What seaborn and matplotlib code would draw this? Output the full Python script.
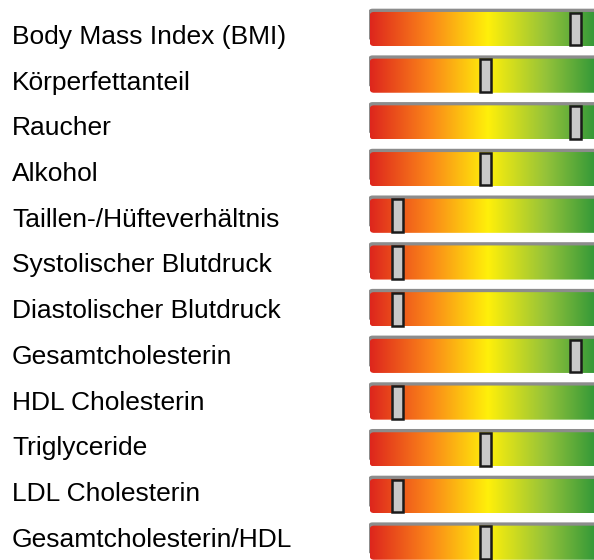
import numpy as np
import matplotlib
matplotlib.use("Agg")
import matplotlib.pyplot as plt
from matplotlib.patches import FancyBboxPatch
import seaborn as sns

# data
labels = [
    "Body Mass Index (BMI)",
    "Körperfettanteil",
    "Raucher",
    "Alkohol",
    "Taillen-/Hüfteverhältnis",
    "Systolischer Blutdruck",
    "Diastolischer Blutdruck",
    "Gesamtcholesterin",
    "HDL Cholesterin",
    "Triglyceride",
    "LDL Cholesterin",
    "Gesamtcholesterin/HDL",
]
scores = [87.5, 49.5, 87.5, 49.5, 12, 12, 12, 87.5, 12, 49.5, 12, 49.5]
grad_colors = ["#de261d", "#fa8519", "#fff00a", "#93c23a", "#1f9038"]

sns.set_theme(style="white")
plt.rcParams["font.family"] = ["Liberation Sans", "DejaVu Sans"]

W, H = 594, 560
fig = plt.figure(figsize=(W / 100, H / 100), dpi=100)

# bar axes: left edge at px 369, 236 px wide (runs past the right border)
n = len(labels)
pitch = 46.7
top = 29 - pitch / 2
ax = fig.add_axes([369 / W, 1 - (top + pitch * n) / H, 236 / W, pitch * n / H])
ax.set_xlim(0, 100)
ax.set_ylim(n - 0.5, -0.5)
ax.axis("off")

cmap = sns.blend_palette(grad_colors, as_cmap=True)
grad = np.linspace(0, 1, 256).reshape(1, -1)
half = 0.365
r_x = 1.8                      # corner radius in x units (~4 px)
aspect = (4 / pitch) / r_x     # same radius in y units
for i in range(n):
    # grey shadow edge on top and left
    shadow = FancyBboxPatch((-0.3, i - half - 0.07), 100.3, 2 * half - 0.05,
                            boxstyle=f"round,pad=0,rounding_size={r_x}",
                            mutation_aspect=aspect, facecolor="#8c8c8c",
                            edgecolor="none", zorder=1)
    ax.add_patch(shadow)
    clip = FancyBboxPatch((0.3, i - half), 99.7, 2 * half,
                          boxstyle=f"round,pad=0,rounding_size={r_x}",
                          mutation_aspect=aspect, facecolor="none",
                          edgecolor="none")
    ax.add_patch(clip)
    im = ax.imshow(grad, cmap=cmap, aspect="auto", zorder=2,
                   extent=(0.3, 100, i + half, i - half))
    im.set_clip_path(clip)

ax.set_xlim(0, 100)
ax.set_ylim(n - 0.5, -0.5)

# slider markers
ax.barh(range(n), 4.6, left=np.array(scores) - 2.3, height=0.70,
        color="#c8c8c8", edgecolor="#1a1a1a", linewidth=1.8, zorder=3)

# row labels
for i, lab in enumerate(labels):
    fig.text(12 / W, 1 - (44 + 45.7 * i) / H, lab, fontsize=19,
             va="baseline", ha="left", color="black")

fig.savefig("out.png", dpi=100)
plt.close()
